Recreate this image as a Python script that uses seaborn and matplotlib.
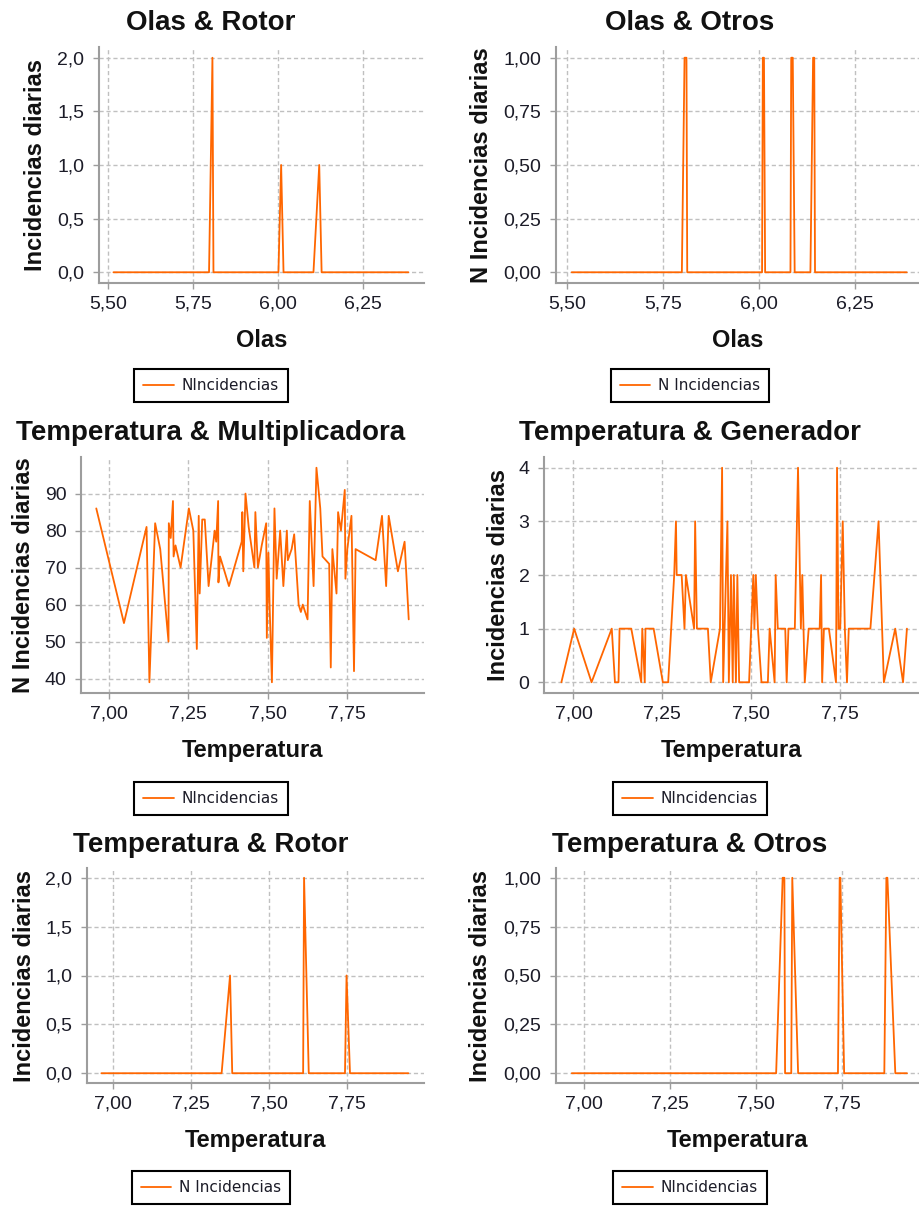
import matplotlib
matplotlib.use("Agg")
import matplotlib.pyplot as plt
import seaborn as sns
import pandas as pd
from matplotlib.ticker import FuncFormatter, MultipleLocator

# datos
olas_rotor_x = [5.516, 5.797, 5.807, 5.810, 6.001, 6.009, 6.016, 6.104, 6.121, 6.128, 6.383]
olas_rotor_y = [0, 0, 2, 0, 0, 1, 0, 0, 1, 0, 0]

olas_otros_x = [5.512, 5.799, 5.806, 5.811, 5.813, 6.008, 6.010, 6.013, 6.016, 6.082, 6.084,
                6.088, 6.093, 6.134, 6.141, 6.144, 6.146, 6.385]
olas_otros_y = [0, 0, 1, 1, 0, 0, 1, 1, 0, 0, 1, 1, 0, 0, 1, 1, 0, 0]

temp_mult_x = [6.961, 7.048, 7.119, 7.128, 7.146, 7.162, 7.188, 7.189, 7.195, 7.202, 7.204,
               7.210, 7.226, 7.252, 7.266, 7.277, 7.283, 7.286, 7.294, 7.302, 7.314, 7.333,
               7.338, 7.344, 7.345, 7.350, 7.378, 7.418, 7.420, 7.423, 7.430, 7.440, 7.458,
               7.461, 7.469, 7.481, 7.495, 7.497, 7.502, 7.506, 7.513, 7.521, 7.528, 7.539,
               7.549, 7.560, 7.563, 7.575, 7.583, 7.597, 7.604, 7.610, 7.625, 7.632, 7.644,
               7.653, 7.665, 7.672, 7.693, 7.698, 7.703, 7.716, 7.721, 7.730, 7.742, 7.744,
               7.750, 7.763, 7.771, 7.776, 7.839, 7.859, 7.872, 7.880, 7.909, 7.930, 7.943]
temp_mult_y = [86, 55, 81, 39, 82, 75, 50, 82, 78, 88, 73,
               76, 70, 86, 80, 48, 84, 63, 83, 83, 65, 80,
               77, 88, 66, 73, 65, 77, 85, 69, 90, 81, 70,
               85, 70, 76, 82, 51, 74, 59, 39, 86, 67, 80,
               65, 80, 72, 75, 79, 60, 58, 60, 56, 88, 65,
               97, 86, 73, 71, 43, 75, 63, 85, 80, 91, 67,
               75, 84, 42, 75, 72, 84, 65, 84, 69, 77, 56]

temp_gen_x = [6.966, 7.002, 7.051, 7.108, 7.117, 7.127, 7.130, 7.163, 7.191, 7.194, 7.201,
              7.203, 7.226, 7.252, 7.267, 7.284, 7.289, 7.291, 7.305, 7.313, 7.317, 7.340,
              7.343, 7.348, 7.379, 7.387, 7.413, 7.419, 7.422, 7.434, 7.438, 7.444, 7.449,
              7.452, 7.458, 7.462, 7.467, 7.495, 7.507, 7.510, 7.514, 7.520, 7.530, 7.548,
              7.553, 7.567, 7.570, 7.576, 7.597, 7.601, 7.606, 7.624, 7.633, 7.641, 7.645,
              7.652, 7.663, 7.694, 7.698, 7.701, 7.706, 7.720, 7.740, 7.743, 7.747, 7.752,
              7.759, 7.765, 7.771, 7.776, 7.837, 7.860, 7.875, 7.907, 7.929, 7.940]
temp_gen_y = [0, 1, 0, 1, 0, 0, 1, 1, 0, 1, 0,
              1, 1, 0, 0, 2, 3, 2, 2, 1, 2, 1,
              3, 1, 1, 0, 1, 4, 0, 3, 0, 2, 0,
              2, 0, 2, 0, 0, 2, 1, 2, 1, 0, 0,
              1, 0, 2, 1, 1, 0, 1, 1, 4, 1, 2,
              0, 1, 1, 2, 0, 1, 1, 0, 4, 1, 1,
              3, 1, 0, 1, 1, 3, 0, 1, 0, 1]

temp_rotor_x = [6.963, 7.348, 7.375, 7.382, 7.609, 7.612, 7.627, 7.743, 7.748, 7.759, 7.946]
temp_rotor_y = [0, 0, 1, 0, 0, 2, 0, 0, 1, 0, 0]

temp_otros_x = [6.964, 7.559, 7.578, 7.583, 7.585, 7.603, 7.606, 7.623, 7.739, 7.744, 7.746,
                7.757, 7.874, 7.880, 7.883, 7.906, 7.940]
temp_otros_y = [0, 0, 1, 1, 0, 0, 1, 0, 0, 1, 1, 0, 0, 1, 1, 0, 0]

titulos = ["Olas & Rotor", "Olas & Otros", "Temperatura & Multiplicadora",
           "Temperatura & Generador", "Temperatura & Rotor", "Temperatura & Otros"]
xlabels = ["Olas", "Olas", "Temperatura", "Temperatura", "Temperatura", "Temperatura"]
ylabels = ["Incidencias diarias", "N Incidencias diarias", "N Incidencias diarias",
           "Incidencias diarias", "Incidencias diarias", "Incidencias diarias"]
leyendas = ["NIncidencias", "N Incidencias", "NIncidencias",
            "NIncidencias", "N Incidencias", "NIncidencias"]
series = [(olas_rotor_x, olas_rotor_y), (olas_otros_x, olas_otros_y),
          (temp_mult_x, temp_mult_y), (temp_gen_x, temp_gen_y),
          (temp_rotor_x, temp_rotor_y), (temp_otros_x, temp_otros_y)]

# layout en pixeles: (izq, arriba, der, abajo)
rects = [(99, 47, 424, 283), (556, 47, 919, 283),
         (81, 457, 424, 693), (544, 457, 919, 693),
         (87, 868, 424, 1083), (556, 868, 919, 1083)]
xlims = [(5.4735, 6.429), (5.471, 6.417), (6.913, 7.991),
         (6.917, 7.974), (6.917, 7.996), (6.918, 7.975)]
ysteps = [0.5, 0.25, 10, 1, 0.5, 0.25]
ydec = [1, 2, 0, 0, 1, 2]
ylab_x = [41.7, 488.3, 30, 505, 30.7, 487.3]
title_y = [30, 30, 440, 440, 852, 852]
legend_top = [369, 369, 782, 782, 1171, 1171]
col_center = [211, 690, 211, 690, 211, 690]

W, H = 919, 1206
sns.set_theme(style="white")
plt.rcParams['font.family'] = ['Liberation Sans', 'DejaVu Sans']

fig = plt.figure(figsize=(W / 100, H / 100), dpi=100)
naranja = '#FF6600'

for i in range(6):
    l, t, r, b = rects[i]
    ax = fig.add_axes([l / W, 1 - b / H, (r - l) / W, (b - t) / H])
    df = pd.DataFrame({'x': series[i][0], 'y': series[i][1]})
    sns.lineplot(data=df, x='x', y='y', ax=ax, color=naranja, linewidth=1.3,
                 estimator=None, sort=False, label=leyendas[i])

    ax.set_xlim(*xlims[i])
    ax.xaxis.set_major_locator(MultipleLocator(0.25))
    ax.yaxis.set_major_locator(MultipleLocator(ysteps[i]))
    ax.xaxis.set_major_formatter(FuncFormatter(lambda v, p: f"{v:.2f}".replace('.', ',')))
    d = ydec[i]
    ax.yaxis.set_major_formatter(FuncFormatter(lambda v, p, d=d: f"{v:.{d}f}".replace('.', ',')))

    ax.grid(True, linestyle=(0, (3, 2)), color='#c0c0c0', linewidth=1)
    for s in ['top', 'right']:
        ax.spines[s].set_visible(False)
    for s in ['left', 'bottom']:
        ax.spines[s].set_color('#9d9d9d')
        ax.spines[s].set_linewidth(1.5)
    ax.tick_params(direction='out', length=4, width=1, color='#9d9d9d',
                   labelsize=14, labelcolor='#1c1c28', bottom=True, left=True)
    ax.tick_params(axis='x', pad=5)
    ax.tick_params(axis='y', pad=6.5)

    ax.set_xlabel(xlabels[i], fontsize=17, fontweight='bold', color='#111111')
    ax.xaxis.label.set_va('baseline')
    ax.xaxis.set_label_coords(0.5, -64 / (b - t))
    ax.set_ylabel(ylabels[i], fontsize=17, fontweight='bold', color='#111111')
    ax.yaxis.label.set_va('baseline')
    ax.yaxis.set_label_coords((ylab_x[i] - l) / (r - l), 0.5)

    fig.text(col_center[i] / W, 1 - title_y[i] / H, titulos[i], ha='center',
             va='baseline', fontsize=20, fontweight='bold', color='#111111')

    leg = ax.legend(loc='upper center', bbox_to_anchor=(col_center[i] / W, 1 - legend_top[i] / H),
                    bbox_transform=fig.transFigure, frameon=True, fancybox=False,
                    edgecolor='black', framealpha=1, borderaxespad=0, handlelength=2,
                    handletextpad=0.5, borderpad=0.6,
                    prop={'family': 'DejaVu Sans', 'size': 11})
    leg.get_frame().set_linewidth(1.5)
    for txt in leg.get_texts():
        txt.set_color('#1c1c28')

fig.savefig('out.png', dpi=100, facecolor='white')
